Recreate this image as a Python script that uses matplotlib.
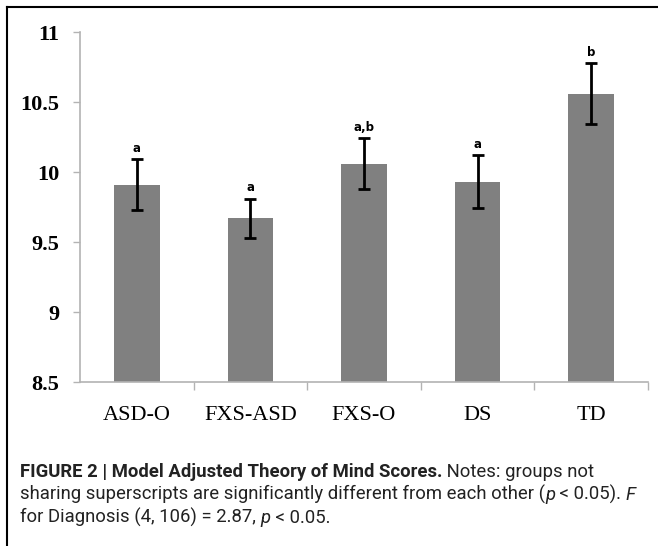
import matplotlib
matplotlib.use('Agg')
import matplotlib.pyplot as plt
from matplotlib.lines import Line2D

# dane
grupy = ["ASD-O", "FXS-ASD", "FXS-O", "DS", "TD"]
srednie = [9.91, 9.67, 10.06, 9.93, 10.56]
bledy = [0.18, 0.14, 0.18, 0.19, 0.22]
litery = ["a", "a", "a,b", "a", "b"]
y_ticki = [8.5, 9, 9.5, 10, 10.5, 11]
y_etykiety = ["8.5", "9", "9.5", "10", "10.5", "11"]

szary = "#b3b3b3"
fig = plt.figure(figsize=(6.58, 5.46), dpi=100)
ax = fig.add_axes([80 / 658, 1 - 382 / 546, 568 / 658, 350 / 546])

x = list(range(len(grupy)))
ax.bar(x, srednie, width=0.40, color="#808080", zorder=2)
ax.errorbar(x, srednie, yerr=bledy, fmt="none", ecolor="black",
            elinewidth=2.0, capsize=4, capthick=2.0, zorder=3)
for xi, m, e, lit in zip(x, srednie, bledy, litery):
    ax.text(xi, m + e + 0.03, lit, ha="center", va="bottom",
            fontsize=8.5, fontweight="bold", family="DejaVu Sans")

ax.set_xlim(-0.5, 4.5)
ax.set_ylim(8.5, 11)
ax.set_yticks(y_ticki)
ax.set_yticklabels(y_etykiety, family="Liberation Serif", fontsize=16,
                   fontweight="bold")
ax.set_xticks(x)
ax.set_xticklabels(grupy, family="Liberation Serif", fontsize=16)
ax.tick_params(axis="x", length=0, pad=17)
ax.tick_params(axis="y", length=5, color=szary, width=1, pad=10)
ax.set_xticks([0.5, 1.5, 2.5, 3.5, 4.5], minor=True)
ax.tick_params(axis="x", which="minor", length=6, color=szary, width=1)
for s in ["top", "right"]:
    ax.spines[s].set_visible(False)
for s in ["left", "bottom"]:
    ax.spines[s].set_color(szary)
    ax.spines[s].set_linewidth(1.2)

# ramka ryciny
fig.add_artist(Line2D([7 / 658, 1], [1 - 7 / 546, 1 - 7 / 546],
                      color="black", lw=1.5, transform=fig.transFigure))
fig.add_artist(Line2D([7 / 658, 7 / 658], [0, 1 - 7 / 546],
                      color="black", lw=1.5, transform=fig.transFigure))

# podpis - fragmenty tekstu ustawiane jeden za drugim
czcionka = ["Roboto", "DejaVu Sans"]
linie = [
    [("FIGURE 2 | Model Adjusted Theory of Mind Scores.", "bold", "normal"),
     (" Notes: groups not", "normal", "normal")],
    [("sharing superscripts are significantly different from each other (", "normal", "normal"),
     ("p", "normal", "italic"),
     (" < 0.05). ", "normal", "normal"),
     ("F", "normal", "italic")],
    [("for Diagnosis (4, 106) = 2.87, ", "normal", "normal"),
     ("p", "normal", "italic"),
     (" < 0.05.", "normal", "normal")],
]
baseliny = [477, 500, 523]
renderer = fig.canvas.get_renderer()


def szerokosc(linia, rozmiar):
    w = 0
    for tekst, waga, styl in linia:
        t = fig.text(0, 0, tekst, family=czcionka, fontsize=rozmiar,
                     fontweight=waga, style=styl)
        w += t.get_window_extent(renderer).width
        t.remove()
    return w


# dopasowanie rozmiaru tak, by druga linia miala ok. 617 px
rozmiar = 15
rozmiar = min(rozmiar, rozmiar * 617 / szerokosc(linie[1], rozmiar))

for linia, yb in zip(linie, baseliny):
    xp = 20
    for tekst, waga, styl in linia:
        t = fig.text(xp / 658, 1 - yb / 546, tekst, family=czcionka,
                     fontsize=rozmiar, fontweight=waga, style=styl,
                     va="baseline", ha="left", color="#222222")
        bb = t.get_window_extent(renderer)
        xp += bb.width

fig.savefig("out.png", dpi=100)
